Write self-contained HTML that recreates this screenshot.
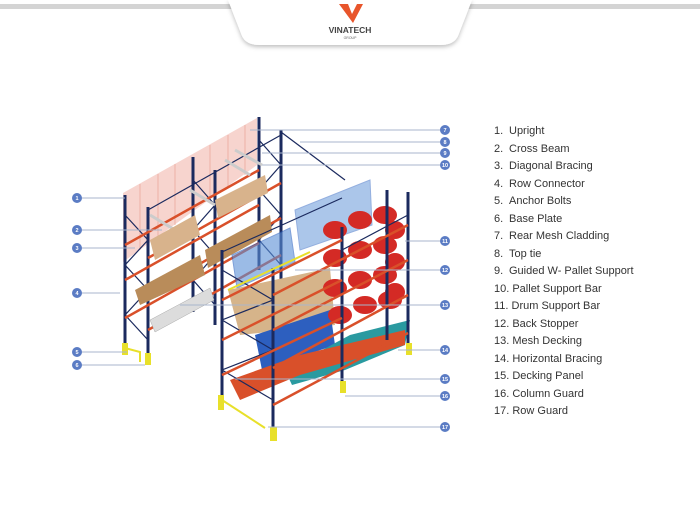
<!DOCTYPE html>
<html><head><meta charset="utf-8"><style>
html,body{margin:0;padding:0;background:#fff;}
body{width:700px;height:525px;position:relative;overflow:hidden;font-family:"Liberation Sans",sans-serif;}
.lg{position:absolute;left:494px;font-size:11px;color:#333;}
.lg span{display:inline-block;width:15px;}
</style></head><body>
<svg width="700" height="525" style="position:absolute;left:0;top:0">
<defs><filter id="sh" x="-20%" y="-50%" width="140%" height="200%"><feDropShadow dx="0" dy="2" stdDeviation="2" flood-color="#000" flood-opacity="0.25"/></filter></defs>
<rect x="0" y="4" width="700" height="5" fill="#d4d4d4"/>
<path d="M228,0 L472,0 L458,36 Q454,45 440,45 L260,45 Q246,45 242,36 Z" fill="#fff" filter="url(#sh)"/>
<path d="M339,4 L348,4 L352,14 L357,4 L363,4 L353,23 Z" fill="#e8552b"/>
<text x="350" y="33" text-anchor="middle" font-size="8.5" font-weight="bold" fill="#444" font-family="Liberation Sans">VINATECH</text>
<text x="350" y="39" text-anchor="middle" font-size="3.5" fill="#666">GROUP</text>

<polygon points="123,193 257,118 257,165 123,262" fill="#f4c6bd" opacity="0.75"/>
<g stroke="#e59a8a" stroke-width="0.6">
<line x1="140" y1="184" x2="140" y2="250"/><line x1="158" y1="174" x2="158" y2="237"/><line x1="175" y1="164" x2="175" y2="225"/><line x1="210" y1="145" x2="210" y2="200"/><line x1="228" y1="135" x2="228" y2="188"/><line x1="245" y1="125" x2="245" y2="175"/></g>

<g stroke="#1b2a5e" stroke-width="3">
<line x1="125" y1="195" x2="125" y2="345"/><line x1="148" y1="207" x2="148" y2="357"/>
<line x1="193" y1="157" x2="193" y2="312"/><line x1="215" y1="170" x2="215" y2="325"/>
<line x1="259" y1="117" x2="259" y2="270"/><line x1="281" y1="130" x2="281" y2="290"/>
</g>
<g stroke="#1b2a5e" stroke-width="1.2" fill="none">
<polyline points="125,215 148,240 125,265 148,290 125,315 148,340"/>
<polyline points="193,180 215,205 193,230 215,255 193,280 215,305"/>
<polyline points="259,140 281,165 259,190 281,215 259,240 281,265"/>
<line x1="148" y1="210" x2="281" y2="135"/>
<line x1="281" y1="132" x2="345" y2="180"/>
</g>
<g stroke="#d9502a" stroke-width="2.5">
<line x1="125" y1="245" x2="259" y2="170"/><line x1="148" y1="258" x2="281" y2="183"/>
<line x1="125" y1="280" x2="259" y2="205"/><line x1="148" y1="293" x2="281" y2="218"/>
<line x1="125" y1="318" x2="259" y2="243"/><line x1="148" y1="330" x2="281" y2="255"/>
</g>
<g stroke="#ccc" stroke-width="3"><line x1="225" y1="160" x2="250" y2="175"/><line x1="235" y1="150" x2="262" y2="165"/><line x1="150" y1="215" x2="175" y2="230"/><line x1="190" y1="190" x2="215" y2="205"/></g>
<polygon points="150,240 195,215 200,235 155,260" fill="#d8b38c"/>
<polygon points="215,200 265,175 268,193 218,218" fill="#d8b38c"/>
<polygon points="135,290 200,255 205,275 140,305" fill="#b98c5a"/>
<polygon points="205,250 270,215 272,232 208,268" fill="#b98c5a"/>
<polygon points="150,320 210,288 214,300 155,332" fill="#dcdcdc" stroke="#aaa" stroke-width="0.5"/>
<rect x="122" y="343" width="6" height="12" fill="#e8e02a"/><rect x="145" y="353" width="6" height="12" fill="#e8e02a"/>
<polyline points="125,348 140,352 140,362" fill="none" stroke="#e8e02a" stroke-width="2"/>

<polygon points="232,255 290,228 295,262 237,288" fill="#5a8fd6" opacity="0.6" stroke="#2b62c0"/>
<polygon points="295,210 370,180 372,225 300,250" fill="#5a8fd6" opacity="0.5" stroke="#2b62c0"/>
<polygon points="228,290 330,268 335,325 240,335" fill="#d6b48a"/>
<polygon points="255,335 330,310 335,345 262,370" fill="#2d5fbf"/>
<polygon points="285,370 350,335 410,320 405,345 345,370 292,385" fill="#2a9aa0"/>
<polygon points="230,380 300,355 405,330 405,345 300,375 240,400" fill="#d9502a"/>
<g fill="#d42a25">
<ellipse cx="335" cy="230" rx="12" ry="9"/><ellipse cx="360" cy="220" rx="12" ry="9"/><ellipse cx="385" cy="215" rx="12" ry="9"/><ellipse cx="395" cy="230" rx="10" ry="9"/>
<ellipse cx="335" cy="258" rx="12" ry="9"/><ellipse cx="360" cy="250" rx="12" ry="9"/><ellipse cx="385" cy="245" rx="12" ry="9"/><ellipse cx="395" cy="262" rx="10" ry="9"/>
<ellipse cx="335" cy="288" rx="12" ry="9"/><ellipse cx="360" cy="280" rx="12" ry="9"/><ellipse cx="385" cy="275" rx="12" ry="9"/><ellipse cx="395" cy="292" rx="10" ry="9"/>
<ellipse cx="340" cy="315" rx="12" ry="9"/><ellipse cx="365" cy="305" rx="12" ry="9"/><ellipse cx="390" cy="300" rx="12" ry="9"/>
</g>
<g stroke="#1b2a5e" stroke-width="3">
<line x1="222" y1="250" x2="222" y2="410"/><line x1="273" y1="268" x2="273" y2="440"/>
<line x1="342" y1="227" x2="342" y2="392"/><line x1="408" y1="192" x2="408" y2="355"/>
<line x1="387" y1="190" x2="387" y2="340"/>
</g>
<g stroke="#1b2a5e" stroke-width="1.2" fill="none">
<polyline points="222,270 273,300 222,320 273,350 222,370 273,400"/>
<polyline points="342,250 408,215"/>
<line x1="222" y1="252" x2="342" y2="198"/>
</g>
<g stroke="#d9502a" stroke-width="2.5">
<line x1="273" y1="295" x2="408" y2="225"/><line x1="273" y1="330" x2="408" y2="260"/><line x1="273" y1="368" x2="408" y2="295"/><line x1="273" y1="405" x2="408" y2="333"/>
<line x1="222" y1="300" x2="342" y2="240"/><line x1="222" y1="340" x2="342" y2="280"/><line x1="222" y1="375" x2="342" y2="318"/>
</g>
<line x1="228" y1="290" x2="310" y2="252" stroke="#e8e02a" stroke-width="2"/>
<rect x="218" y="395" width="6" height="15" fill="#e8e02a"/><rect x="270" y="427" width="7" height="14" fill="#e8e02a"/><rect x="340" y="381" width="6" height="12" fill="#e8e02a"/><rect x="406" y="343" width="6" height="12" fill="#e8e02a"/>
<polyline points="222,400 265,428" fill="none" stroke="#e8e02a" stroke-width="2"/>

<g stroke="#a9b6cc" stroke-width="1">
<line x1="77" y1="198" x2="125" y2="198"/><line x1="77" y1="230" x2="162" y2="230"/><line x1="77" y1="248" x2="135" y2="248"/><line x1="77" y1="293" x2="120" y2="293"/><line x1="77" y1="352" x2="127" y2="352"/><line x1="77" y1="365" x2="145" y2="365"/>
<line x1="250" y1="130" x2="445" y2="130"/><line x1="300" y1="142" x2="445" y2="142"/><line x1="262" y1="153" x2="445" y2="153"/><line x1="262" y1="165" x2="445" y2="165"/>
<line x1="405" y1="241" x2="445" y2="241"/><line x1="295" y1="270" x2="445" y2="270"/><line x1="180" y1="305" x2="445" y2="305"/><line x1="398" y1="350" x2="445" y2="350"/>
<line x1="235" y1="379" x2="445" y2="379"/><line x1="345" y1="396" x2="445" y2="396"/><line x1="268" y1="427" x2="445" y2="427"/>
</g>
<g fill="#5b7cc4">
<circle cx="77" cy="198" r="5"/><circle cx="77" cy="230" r="5"/><circle cx="77" cy="248" r="5"/><circle cx="77" cy="293" r="5"/><circle cx="77" cy="352" r="5"/><circle cx="77" cy="365" r="5"/>
<circle cx="445" cy="130" r="5"/><circle cx="445" cy="142" r="5"/><circle cx="445" cy="153" r="5"/><circle cx="445" cy="165" r="5"/><circle cx="445" cy="241" r="5"/><circle cx="445" cy="270" r="5"/><circle cx="445" cy="305" r="5"/><circle cx="445" cy="350" r="5"/><circle cx="445" cy="379" r="5"/><circle cx="445" cy="396" r="5"/><circle cx="445" cy="427" r="5"/>
</g>
<g fill="#fff" font-size="5.5" font-family="Liberation Sans" font-weight="bold" text-anchor="middle">
<text x="77" y="200">1</text><text x="77" y="232">2</text><text x="77" y="250">3</text><text x="77" y="295">4</text><text x="77" y="354">5</text><text x="77" y="367">6</text>
<text x="445" y="132">7</text><text x="445" y="144">8</text><text x="445" y="155">9</text><text x="445" y="167">10</text><text x="445" y="243">11</text><text x="445" y="272">12</text><text x="445" y="307">13</text><text x="445" y="352">14</text><text x="445" y="381">15</text><text x="445" y="398">16</text><text x="445" y="429">17</text>
</g>
</svg>
<div class="lg" style="top:125px"><span>1.</span>Upright</div>
<div class="lg" style="top:143px"><span>2.</span>Cross Beam</div>
<div class="lg" style="top:160px"><span>3.</span>Diagonal Bracing</div>
<div class="lg" style="top:178px"><span>4.</span>Row Connector</div>
<div class="lg" style="top:195px"><span>5.</span>Anchor Bolts</div>
<div class="lg" style="top:213px"><span>6.</span>Base Plate</div>
<div class="lg" style="top:230px"><span>7.</span>Rear Mesh Cladding</div>
<div class="lg" style="top:248px"><span>8.</span>Top tie</div>
<div class="lg" style="top:265px"><span>9.</span>Guided W- Pallet Support</div>
<div class="lg" style="top:283px">10. Pallet Support Bar</div>
<div class="lg" style="top:300px">11. Drum Support Bar</div>
<div class="lg" style="top:318px">12. Back Stopper</div>
<div class="lg" style="top:335px">13. Mesh Decking</div>
<div class="lg" style="top:353px">14. Horizontal Bracing</div>
<div class="lg" style="top:370px">15. Decking Panel</div>
<div class="lg" style="top:388px">16. Column Guard</div>
<div class="lg" style="top:405px">17. Row Guard</div>
</body></html>
